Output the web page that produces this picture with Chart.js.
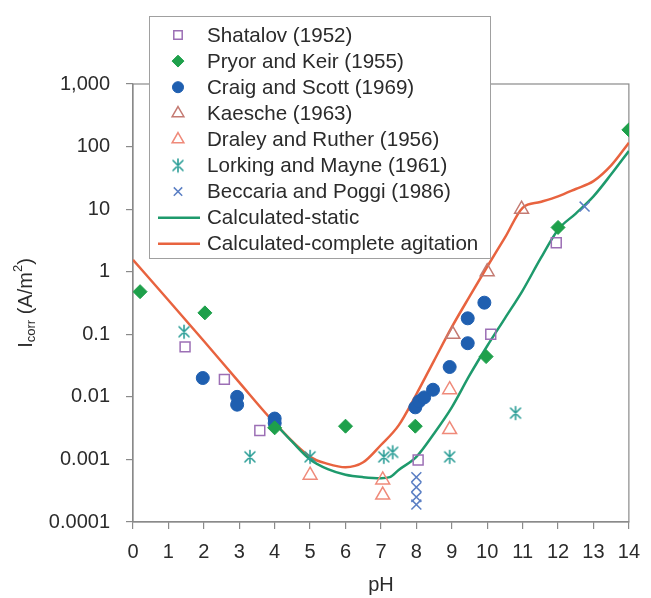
<!DOCTYPE html>
<html>
<head>
<meta charset="utf-8">
<script src="https://cdn.jsdelivr.net/npm/chart.js@4.4.1/dist/chart.umd.min.js"></script>
<style>
  html, body { margin: 0; padding: 0; background: #ffffff; }
  #wrap { width: 651px; height: 598px; position: relative; }
</style>
</head>
<body>
<div id="wrap"><canvas id="c" width="651" height="598"></canvas></div>
<script>
// pH axis ticks and corrosion-current decades
const phTicks = [0, 1, 2, 3, 4, 5, 6, 7, 8, 9, 10, 11, 12, 13, 14];
const yTickValues = [0.0001, 0.001, 0.01, 0.1, 1, 10, 100, 1000];
const yTickLabels = ['0.0001', '0.001', '0.01', '0.1', '1', '10', '100', '1,000'];

// Measured corrosion currents (A/m²) versus pH
const shatalovPH = [1.47, 2.58, 3.58, 8.05, 10.1, 11.95];
const shatalovI  = [0.063, 0.019, 0.0029, 0.00098, 0.1, 2.9];

const pryorPH = [0.2, 2.03, 4.0, 6.0, 7.97, 9.97, 12.0, 14.0];
const pryorI  = [0.48, 0.22, 0.0032, 0.0034, 0.0034, 0.044, 5.1, 185];

const craigPH = [1.97, 2.94, 2.94, 4.0, 4.0, 7.97, 8.08, 8.22, 8.47, 8.94, 9.45, 9.45, 9.92];
const craigI  = [0.02, 0.01, 0.0075, 0.0045, 0.0038, 0.0068, 0.0085, 0.0098, 0.013, 0.03, 0.072, 0.18, 0.32];

const kaeschePH = [9.03, 10.0, 10.97];
const kaescheI  = [0.1, 1.0, 10];

const draleyPH = [5.0, 7.05, 7.05, 8.94, 8.94];
const draleyI  = [0.00056, 0.00047, 0.00027, 0.013, 0.003];

const lorkingPH = [1.44, 3.3, 5.0, 7.08, 7.33, 8.94, 10.8];
const lorkingI  = [0.11, 0.0011, 0.0011, 0.0011, 0.0013, 0.0011, 0.0055];

const beccariaPH = [8.0, 8.0, 8.0, 8.0, 12.75];
const beccariaI  = [0.00052, 0.00036, 0.00025, 0.00019, 11];

// Calculated curves
const staticPH = [4, 4.5, 5, 5.5, 6, 6.5, 7, 7.25, 7.5, 8, 8.5, 9, 9.5, 10, 10.5, 11, 11.5, 12, 12.5, 13, 13.5, 14];
const staticI  = [0.0038, 0.0019, 0.001, 0.0007, 0.00057, 0.00052, 0.0005, 0.00052, 0.00068, 0.0011, 0.0026, 0.0068, 0.022, 0.065, 0.18, 0.5, 1.6, 4.7, 8.5, 16, 36, 85];

const agitPH = [0, 1, 2, 3, 4, 5, 5.5, 6, 6.5, 7, 7.5, 8, 8.5, 9, 9.5, 10, 10.5, 11, 11.5, 12, 12.5, 13, 13.5, 14];
const agitI  = [1.55, 0.35, 0.078, 0.017, 0.0038, 0.0011, 0.00085, 0.00075, 0.0009, 0.0017, 0.0035, 0.011, 0.038, 0.13, 0.4, 1.2, 3.5, 10.5, 13, 16, 21, 28, 50, 115];

const pts = (xs, ys) => xs.map((x, i) => ({ x: x, y: ys[i] }));

// Asterisk marker: an X with a vertical stroke
function makeAsterisk(color) {
  const c = document.createElement('canvas');
  c.width = 16; c.height = 16;
  const g = c.getContext('2d');
  g.strokeStyle = color; g.lineWidth = 1.6; g.lineCap = 'round';
  g.beginPath();
  g.moveTo(3, 3); g.lineTo(13, 13);
  g.moveTo(13, 3); g.lineTo(3, 13);
  g.moveTo(8, 1.5); g.lineTo(8, 14.5);
  g.stroke();
  return c;
}

const COL = {
  shatalov: '#9c6fb5',
  pryor: '#1ea04b',
  craig: '#1f5fb0',
  kaesche: '#c47a72',
  draley: '#ef8a7a',
  lorking: '#2a9d96',
  beccaria: '#5b7fc4',
  stat: '#1e9a6c',
  agit: '#e8633f'
};
const asterisk = makeAsterisk(COL.lorking);

const datasets = [
  { label: 'Shatalov (1952)', data: pts(shatalovPH, shatalovI), pointStyle: 'rect', pointRadius: 7,
    borderColor: COL.shatalov, backgroundColor: 'rgba(255,255,255,0)', borderWidth: 1.5, showLine: false },
  { label: 'Pryor and Keir (1955)', data: pts(pryorPH, pryorI), pointStyle: 'rectRot', pointRadius: 7,
    borderColor: COL.pryor, backgroundColor: COL.pryor, borderWidth: 1, showLine: false },
  { label: 'Craig and Scott (1969)', data: pts(craigPH, craigI), pointStyle: 'circle', pointRadius: 6.5,
    borderColor: COL.craig, backgroundColor: COL.craig, borderWidth: 1, showLine: false },
  { label: 'Kaesche (1963)', data: pts(kaeschePH, kaescheI), pointStyle: 'triangle', pointRadius: 8,
    borderColor: COL.kaesche, backgroundColor: 'rgba(255,255,255,0)', borderWidth: 1.5, showLine: false },
  { label: 'Draley and Ruther (1956)', data: pts(draleyPH, draleyI), pointStyle: 'triangle', pointRadius: 8,
    borderColor: COL.draley, backgroundColor: 'rgba(255,255,255,0)', borderWidth: 1.5, showLine: false },
  { label: 'Lorking and Mayne (1961)', data: pts(lorkingPH, lorkingI), pointStyle: asterisk, pointRadius: 8,
    borderColor: COL.lorking, backgroundColor: COL.lorking, borderWidth: 1.5, showLine: false },
  { label: 'Beccaria and Poggi (1986)', data: pts(beccariaPH, beccariaI), pointStyle: 'crossRot', pointRadius: 7,
    borderColor: COL.beccaria, backgroundColor: COL.beccaria, borderWidth: 1.5, showLine: false },
  { label: 'Calculated-static', data: pts(staticPH, staticI), showLine: true, pointRadius: 0,
    borderColor: COL.stat, backgroundColor: COL.stat, borderWidth: 2.5, cubicInterpolationMode: 'monotone', isLine: true },
  { label: 'Calculated-complete agitation', data: pts(agitPH, agitI), showLine: true, pointRadius: 0,
    borderColor: COL.agit, backgroundColor: COL.agit, borderWidth: 2.5, cubicInterpolationMode: 'monotone', isLine: true }
];

const AXIS = '#8a8a8a';
const TEXT = '#2b2b2b';
const FONT = '"Liberation Sans", Arial, Helvetica, sans-serif';

// Frame around the plot area (top and right edges)
const framePlugin = {
  id: 'frame',
  beforeDatasetsDraw(chart) {
    const a = chart.chartArea, ctx = chart.ctx;
    ctx.save();
    ctx.strokeStyle = AXIS; ctx.lineWidth = 1.2;
    ctx.strokeRect(a.left, a.top, a.right - a.left, a.bottom - a.top);
    ctx.restore();
  }
};

// Rotated y-axis title with subscript and superscript
const yTitlePlugin = {
  id: 'yTitle',
  afterDraw(chart) {
    const ctx = chart.ctx, a = chart.chartArea;
    const parts = [
      { t: 'I', size: 20, dy: 0 },
      { t: 'corr', size: 13, dy: 5 },
      { t: ' (A/m', size: 20, dy: 0 },
      { t: '2', size: 13, dy: -8 },
      { t: ')', size: 20, dy: 0 }
    ];
    ctx.save();
    let total = 0;
    parts.forEach(p => { ctx.font = p.size + 'px ' + FONT; p.w = ctx.measureText(p.t).width; total += p.w; });
    ctx.translate(26, (a.top + a.bottom) / 2);
    ctx.rotate(-Math.PI / 2);
    ctx.fillStyle = TEXT;
    ctx.textBaseline = 'middle';
    let x = -total / 2;
    parts.forEach(p => {
      ctx.font = p.size + 'px ' + FONT;
      ctx.fillText(p.t, x, p.dy);
      x += p.w;
    });
    ctx.restore();
  }
};

// Boxed legend overlapping the top of the plot
const legendPlugin = {
  id: 'boxLegend',
  afterDraw(chart) {
    const ctx = chart.ctx;
    const box = { x: 149, y: 16, w: 341, h: 242 };
    ctx.save();
    ctx.fillStyle = '#ffffff';
    ctx.fillRect(box.x, box.y, box.w, box.h);
    ctx.strokeStyle = '#a0a0a0'; ctx.lineWidth = 1;
    ctx.strokeRect(box.x + 0.5, box.y + 0.5, box.w, box.h);
    const rowH = 26.1, y0 = 35, mx = 178;
    chart.data.datasets.forEach((ds, i) => {
      const y = y0 + i * rowH;
      if (ds.isLine) {
        ctx.strokeStyle = ds.borderColor; ctx.lineWidth = 2.5;
        ctx.beginPath(); ctx.moveTo(158, y); ctx.lineTo(200, y); ctx.stroke();
      } else {
        ctx.strokeStyle = ds.borderColor; ctx.fillStyle = ds.backgroundColor; ctx.lineWidth = ds.borderWidth;
        Chart.helpers.drawPoint(ctx, { pointStyle: ds.pointStyle, radius: ds.pointRadius * 0.85, rotation: 0, borderWidth: ds.borderWidth }, mx, y);
      }
      ctx.fillStyle = TEXT;
      ctx.font = '20.6px ' + FONT;
      ctx.textBaseline = 'middle';
      ctx.textAlign = 'left';
      ctx.fillText(ds.label, 207, y + 1);
    });
    ctx.restore();
  }
};

new Chart(document.getElementById('c'), {
  type: 'scatter',
  data: { datasets: datasets },
  options: {
    responsive: false,
    animation: false,
    devicePixelRatio: 1,
    layout: { padding: { top: 84, right: 14, bottom: 0, left: 0 } },
    plugins: { legend: { display: false }, tooltip: { enabled: false } },
    scales: {
      x: {
        type: 'linear', min: 0, max: 14,
        afterBuildTicks: s => { s.ticks = phTicks.map(v => ({ value: v })); },
        afterFit: s => { s.height = 76; },
        ticks: { color: TEXT, font: { size: 20, family: FONT }, padding: 11, maxRotation: 0, autoSkip: false },
        grid: { display: true, drawOnChartArea: false, drawTicks: true, tickLength: 7, color: AXIS, lineWidth: 1.2 },
        border: { display: true, color: AXIS, width: 1.2 },
        title: { display: true, text: 'pH', color: TEXT, font: { size: 20, family: FONT }, padding: { top: 0, bottom: 1 } }
      },
      y: {
        type: 'logarithmic', min: 0.0001, max: 1000,
        afterBuildTicks: s => { s.ticks = yTickValues.map(v => ({ value: v, major: true })); },
        afterFit: s => { s.width = 133; },
        ticks: { color: TEXT, font: { size: 20, family: FONT }, padding: 16, autoSkip: false,
                 callback: (v, i) => yTickLabels[i] },
        grid: { display: true, drawOnChartArea: false, drawTicks: true, tickLength: 7, color: AXIS, lineWidth: 1.2 },
        border: { display: true, color: AXIS, width: 1.2 }
      }
    }
  },
  plugins: [framePlugin, yTitlePlugin, legendPlugin]
});
</script>
</body>
</html>
